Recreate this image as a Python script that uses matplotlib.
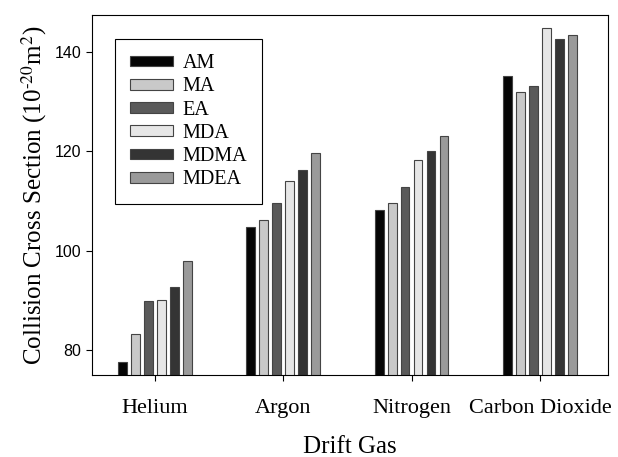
import numpy as np
import matplotlib
matplotlib.use('Agg')
from matplotlib import pyplot as plt

gases = ["Helium", "Argon", "Nitrogen", "Carbon Dioxide"]
compounds = ["AM", "MA", "EA", "MDA", "MDMA", "MDEA"]

am = [77.6, 104.7, 108.1, 135.1]
ma = [83.2, 106.1, 109.5, 131.9]
ea = [89.8, 109.6, 112.8, 133.1]
mda = [90.1, 114.0, 118.3, 144.7]
mdma = [92.7, 116.2, 120.1, 142.6]
mdea = [98.0, 119.6, 123.1, 143.3]

series = [am, ma, ea, mda, mdma, mdea]
colors = ["#050505", "#c9c9c9", "#5a5a5a", "#e6e6e6", "#343434", "#9a9a9a"]

plt.rcParams['font.family'] = 'Liberation Serif'
plt.rcParams['mathtext.fontset'] = 'stix'

fig = plt.figure(figsize=(6.18, 4.57), dpi=100)
ax = fig.add_axes([92/618, 1-375/457, 516/618, 360/457])

x = np.arange(len(gases))
step = 0.101
width = 0.068
for i, (vals, name, c) in enumerate(zip(series, compounds, colors)):
    ax.bar(x + (i - 2.5) * step, vals, width, color=c, edgecolor="#444444",
           linewidth=0.8, label=name, zorder=2)

ax.set_xlim(-0.49, 3.53)
ax.set_ylim(75, 147.4)
ax.set_yticks([80, 100, 120, 140])
ax.set_xticks(x)
ax.set_xticklabels(gases, fontsize=16)
for lab in ax.get_yticklabels():
    lab.set_fontfamily('Liberation Sans')
    lab.set_fontsize(11.5)
ax.tick_params(axis='both', direction='out', length=4, width=0.8)
ax.tick_params(axis='x', pad=13)

ax.set_xlabel("Drift Gas", fontsize=18, labelpad=13)
ax.set_ylabel("Collision Cross Section (10$^{\\text{-}20}$m$^{2}$)", fontsize=18, labelpad=4)

leg = ax.legend(loc='upper left', bbox_to_anchor=(0.045, 0.933), borderaxespad=0,
                fontsize=14.5, handlelength=2.1, handleheight=0.45, handletextpad=0.5,
                labelspacing=0.21, borderpad=0.75, fancybox=False,
                edgecolor='black', framealpha=1)
leg.get_frame().set_linewidth(0.8)

plt.savefig("out.png", dpi=100)
